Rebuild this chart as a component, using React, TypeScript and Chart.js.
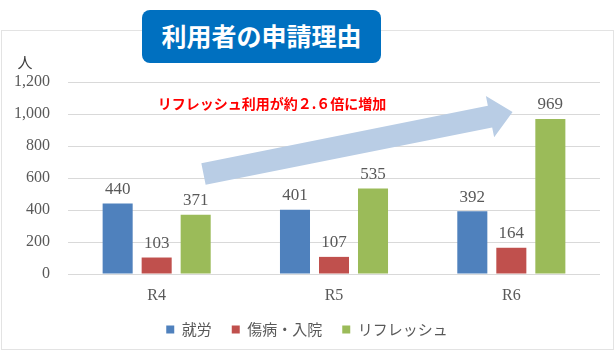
import React, { useEffect, useRef } from "react";
import { Chart, registerables } from "chart.js";

Chart.register(...registerables);

const CATEGORIES = ["R4", "R5", "R6"];
const SHUROU = [440, 401, 392];
const SHOUBYOU = [103, 107, 164];
const REFRESH = [371, 535, 969];
const SERIES_NAMES = ["就労", "傷病・入院", "リフレッシュ"];
const SERIES_COLORS = ["#4f81bd", "#c0504d", "#9bbb59"];
const Y_MIN = 0;
const Y_MAX = 1200;
const Y_STEP = 200;
const TITLE = "利用者の申請理由";
const Y_UNIT = "人";
const NOTE = "リフレッシュ利用が約２.６倍に増加";
// annotation anchors in data space: [category index, value]
const ARROW_FROM = [0.264, 625];
const ARROW_TO = [2.007, 1012];
const NOTE_AT = [0.65, 1062];

const SERIF = '"Liberation Serif", "DejaVu Serif", serif';
const JP = '"Noto Sans CJK JP", "Noto Sans", sans-serif';

const decorPlugin = {
  id: "decor",
  afterDatasetsDraw(chart: any) {
    const { ctx, chartArea, scales } = chart;
    const xs = scales.x;
    const ys = scales.y;
    ctx.save();
    // arrow
    const tx = xs.getPixelForValue(ARROW_FROM[0]);
    const ty = ys.getPixelForValue(ARROW_FROM[1]);
    const hx = xs.getPixelForValue(ARROW_TO[0]);
    const hy = ys.getPixelForValue(ARROW_TO[1]);
    const dx = hx - tx;
    const dy = hy - ty;
    const len = Math.hypot(dx, dy);
    const ux = dx / len;
    const uy = dy / len;
    const nx = -uy;
    const ny = ux;
    const shaft = 11;
    const head = 21;
    const headLen = 23;
    const bx = hx - ux * headLen;
    const by = hy - uy * headLen;
    ctx.beginPath();
    ctx.moveTo(tx + nx * shaft, ty + ny * shaft);
    ctx.lineTo(bx + nx * shaft, by + ny * shaft);
    ctx.lineTo(bx + nx * head, by + ny * head);
    ctx.lineTo(hx, hy);
    ctx.lineTo(bx - nx * head, by - ny * head);
    ctx.lineTo(bx - nx * shaft, by - ny * shaft);
    ctx.lineTo(tx - nx * shaft, ty - ny * shaft);
    ctx.closePath();
    ctx.fillStyle = "#b9cde5";
    ctx.fill();

    // note text
    ctx.font = `bold 14px ${JP}`;
    ctx.fillStyle = "#ff0000";
    ctx.textAlign = "center";
    ctx.textBaseline = "middle";
    ctx.fillText(NOTE, xs.getPixelForValue(NOTE_AT[0]), ys.getPixelForValue(NOTE_AT[1]));

    // value labels
    ctx.font = `17px ${SERIF}`;
    ctx.fillStyle = "#595959";
    chart.data.datasets.forEach((ds: any, i: number) => {
      const meta = chart.getDatasetMeta(i);
      meta.data.forEach((el: any, j: number) => {
        ctx.fillText(String(ds.data[j]), el.x, el.y - 14);
      });
    });

    // unit label
    ctx.font = `15px ${JP}`;
    ctx.fillStyle = "#404040";
    ctx.fillText(Y_UNIT, chartArea.left - 43, chartArea.top - 20);
    ctx.restore();
  },
};

export default function App() {
  const ref = useRef<HTMLCanvasElement>(null);
  useEffect(() => {
    if (!ref.current) return;
    const datasets = [SHUROU, SHOUBYOU, REFRESH].map((d, i) => ({
      label: SERIES_NAMES[i],
      data: d,
      backgroundColor: SERIES_COLORS[i],
      borderWidth: 0,
      categoryPercentage: 0.66,
      barPercentage: 0.77,
    }));
    const chart = new Chart(ref.current, {
      type: "bar",
      data: { labels: CATEGORIES, datasets },
      options: {
        animation: false,
        responsive: false,
        devicePixelRatio: 1,
        layout: { padding: { left: 14, right: 15, top: 82, bottom: 5 } },
        plugins: {
          legend: {
            position: "bottom",
            labels: {
              boxWidth: 8,
              boxHeight: 8,
              padding: 20,
              color: "#595959",
              font: { family: JP, size: 15 },
            },
          },
          tooltip: { enabled: false },
        },
        scales: {
          x: {
            grid: { display: false, drawTicks: false },
            border: { display: false },
            ticks: { color: "#595959", font: { family: SERIF, size: 16 }, padding: 12 },
            afterFit: (s: any) => {
              s.height = 28;
            },
          },
          y: {
            min: Y_MIN,
            max: Y_MAX,
            grid: { color: "#d9d9d9", drawTicks: false },
            border: { display: false },
            ticks: {
              stepSize: Y_STEP,
              color: "#595959",
              font: { family: SERIF, size: 16 },
              padding: 18,
              callback: (v: any) => Number(v).toLocaleString("en-US"),
            },
            afterFit: (s: any) => {
              s.width = 54;
            },
          },
        },
      },
      plugins: [decorPlugin],
    });
    return () => chart.destroy();
  }, []);

  return (
    <div style={{ position: "fixed", left: 0, top: 0, width: 615, height: 352, background: "#fff" }}>
      <div
        style={{
          position: "absolute",
          left: 1,
          top: 30,
          width: 611,
          height: 318,
          border: "1px solid #e3e3e3",
        }}
      />
      <canvas ref={ref} width={615} height={352} style={{ position: "absolute", left: 0, top: 0, width: 615, height: 352 }} />
      <div
        style={{
          position: "absolute",
          left: 142,
          top: 10,
          width: 239,
          height: 53,
          background: "#0070c0",
          borderRadius: 8,
          color: "#fff",
          fontFamily: JP,
          fontWeight: 700,
          fontSize: 25,
          lineHeight: "51px",
          textAlign: "center",
        }}
      >
        {TITLE}
      </div>
    </div>
  );
}
